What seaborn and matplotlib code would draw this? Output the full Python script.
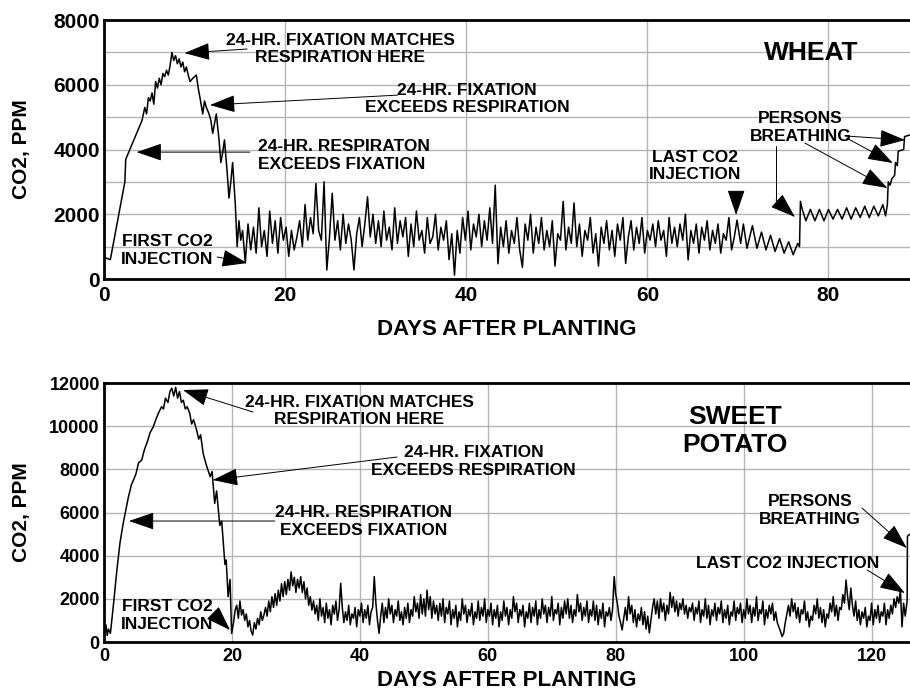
import numpy as np
import pandas as pd
import seaborn as sns
import matplotlib.pyplot as plt

# ---------------- wheat (top panel) ----------------
wheat_rise_day = [0, 0.2, 0.7, 1.5, 2.3, 2.4, 3.0, 3.6, 4.2, 4.5,
                  4.7, 4.9, 5.1, 5.3, 5.5, 5.7, 5.9, 6.1, 6.3, 6.5,
                  6.7, 6.9, 7.1, 7.3, 7.5, 7.7, 7.9, 8.1, 8.3, 8.5,
                  8.7, 8.9, 9.1, 9.3, 9.5, 9.8, 10.2, 10.4, 10.6, 10.9,
                  11.1, 11.3, 11.6, 11.8, 12.0, 12.2, 12.4, 12.7, 12.9, 13.1,
                  13.3, 13.6, 13.8, 14.0, 14.2, 14.5, 14.7, 14.9, 15.1, 15.3,
                  15.6]
wheat_rise_ppm = [700, 650, 600, 1800, 3000, 3700, 4100, 4500, 4900, 5300,
                  5100, 5600, 5500, 5750, 5400, 6100, 5900, 6200, 6000, 6350,
                  6250, 6450, 6300, 6600, 7000, 6750, 6900, 6650, 6800, 6550,
                  6700, 6400, 6550, 6300, 6100, 6200, 6300, 5900, 5600, 5100,
                  5500, 5300, 5100, 4900, 4500, 4800, 5100, 4300, 3600, 3900,
                  4300, 3300, 2500, 3000, 3600, 2300, 1000, 1800, 1200, 1500,
                  500]

# readings every 0.3 day from day 15.9
wheat_noise_start = 15.9
wheat_noise_step = 0.3
wheat_noise_ppm = [
    1700, 900, 1600, 800, 2200, 1000, 1500, 700, 2100, 1100,
    1800, 800, 1900, 1200, 1600, 700, 1500, 900, 1300, 1800,
    1000, 2300, 1200, 1900, 1400, 2950, 1500, 1200, 3000, 280,
    1300, 2650, 1200, 1800, 900, 2000, 1100, 1700, 1200, 280,
    1400, 1900, 1000, 1700, 2540, 1300, 2000, 1100, 1800, 1000,
    2100, 1200, 1600, 900, 2200, 1100, 1800, 1300, 1900, 700,
    1700, 1000, 2100, 1200, 1500, 800, 1900, 1100, 1300, 2000,
    900, 1600, 1200, 1800, 600, 1400, 120, 1500, 800, 1900,
    1200, 2100, 900, 1700, 1300, 2000, 1000, 1800, 1200, 2200,
    1100, 2900, 470, 1600, 1000, 1800, 800, 1500, 1100, 1900,
    900, 360, 1700, 1200, 2000, 800, 1600, 1100, 1900, 900,
    1500, 1000, 1800, 400, 1400, 1200, 2400, 900, 1600, 1100,
    2350, 1000, 1700, 700, 1500, 1200, 1900, 800, 1400, 400,
    1600, 1100, 1800, 900, 1500, 700, 1700, 1200, 1900, 480,
    1300, 1800, 900, 1600, 1100, 1900, 800, 1500, 1200, 1700,
    1000, 1800, 1200, 1500, 700, 1900, 1100, 1600, 1000, 1700,
    1200, 2000, 590, 1500, 1100, 1700, 800, 1600, 1200, 1800,
    900, 1500, 1100, 1700, 800, 1400, 1200, 1900, 900, 1300,
    1820,
]

wheat_tail_day = [70.3, 70.6, 71.0, 71.6, 72.1, 72.6, 73.1, 73.6, 74.1, 74.6,
                  75.1, 75.6, 76.1, 76.6, 76.8, 76.9, 77.1, 77.5, 78.0, 78.5,
                  79.0, 79.5, 80.0, 80.5, 81.0, 81.5, 82.0, 82.5, 83.0, 83.5,
                  84.0, 84.5, 85.0, 85.5, 86.0, 86.3, 86.5, 86.6, 86.8, 87.0,
                  87.3, 87.4, 87.6, 87.7, 88.3, 88.4, 89.0]
wheat_tail_ppm = [1100, 1700, 950, 1650, 950, 1450, 900, 1350, 850, 1250,
                  800, 1150, 750, 1100, 1000, 2400, 2150, 1800, 2150, 1800,
                  2150, 1800, 2150, 1850, 2150, 1850, 2200, 1850, 2200, 1900,
                  2250, 1900, 2250, 1950, 2300, 1950, 2300, 3000, 2900, 3100,
                  3200, 3600, 3500, 3950, 4000, 4400, 4450]

# ---------------- sweet potato (bottom panel) ----------------
potato_rise_day = [0, 0.3, 0.5, 0.7, 1.0, 1.5, 2.0, 2.5, 3.0, 3.3,
                   3.8, 4.3, 4.6, 5.0, 5.4, 5.9, 6.3, 6.8, 7.2, 7.7,
                   8.1, 8.5, 9.0, 9.3, 9.6, 10.0, 10.3, 10.6, 10.9, 11.2,
                   11.5, 11.8, 12.1, 12.4, 12.7, 13.0, 13.4, 13.7, 14.0, 14.5,
                   14.8, 15.1, 15.5, 15.8, 16.1, 16.6, 16.9, 17.3, 17.6, 18.1,
                   18.4, 18.9, 19.1, 19.4, 19.7, 19.95]
potato_rise_ppm = [400, 800, 300, 600, 400, 1800, 3300, 4600, 5500, 5960,
                   6700, 7300, 7500, 7800, 8300, 8430, 8900, 9300, 9700, 9970,
                   10300, 10600, 10900, 10800, 11300, 11100, 11600, 11760, 11400, 11800,
                   11300, 11600, 11100, 11200, 10800, 10900, 10600, 10100, 10300, 9800,
                   9400, 9600, 8740, 8400, 8100, 7660, 7900, 6420, 7000, 5400,
                   5600, 3600, 3800, 2100, 2900, 400]

# readings every 0.25 day from day 20.25
potato_noise_start = 20.25
potato_noise_step = 0.25
potato_noise_ppm = [
    900, 1480, 1700, 1100, 1900, 1250, 1500, 1000, 1300, 700, 1000, 500, 320, 900, 600, 1100,
    800, 1400, 1000, 1250, 1600, 1200, 1900, 1400, 2100, 1600, 2240, 1700, 2400, 1900, 2700, 2100,
    2800, 2200, 2900, 2400, 3250, 2600, 3000, 2300, 2900, 2500, 3030, 2300, 2800, 2000, 2500, 1700,
    2100, 1480, 1900, 1300, 1700, 1000, 2000, 1200, 1600, 900, 1800, 1100, 1500, 800, 1700, 1300,
    1900, 1000, 1500, 2720, 1600, 900, 1400, 1000, 1700, 800, 1300, 1100, 1600, 700, 1500, 1200,
    1800, 900, 1500, 1100, 1700, 800, 1400, 1600, 3030, 1800, 1000, 400, 1200, 1800, 900, 1600,
    1100, 2000, 1300, 1700, 900, 1500, 1200, 1900, 1000, 1400, 800, 1600, 1100, 1800, 900, 1500,
    1200, 2100, 1400, 1800, 1100, 2200, 1300, 2000, 1200, 2400, 1500, 2100, 1100, 1900, 1300, 1700,
    1000, 1800, 1200, 2000, 900, 1600, 1300, 1900, 800, 1500, 1100, 1700, 700, 1400, 1000, 2000,
    1300, 1700, 900, 1500, 1200, 1800, 800, 1400, 1100, 1900, 1000, 1600, 1200, 2000, 900, 1500,
    1200, 1800, 800, 1500, 1100, 1700, 700, 1400, 1000, 1900, 1200, 1600, 800, 1500, 1100, 2100,
    1400, 1800, 900, 1500, 1200, 1700, 700, 1400, 1100, 1800, 900, 1600, 1200, 1900, 800, 1500,
    1100, 2000, 1300, 1700, 900, 1600, 1200, 2100, 1000, 1500, 1300, 1800, 800, 1600, 1100, 1900,
    1300, 2000, 1100, 1700, 900, 1500, 1200, 2200, 1400, 1800, 1000, 1600, 1200, 1900, 900, 1500,
    1200, 1900, 1000, 1700, 800, 1500, 1100, 1800, 700, 1400, 1200, 1600, 1000, 1500, 3030, 2200,
    1800, 1200, 900, 560, 1100, 1600, 1000, 2100, 1300, 1700, 900, 1500, 700, 1300, 1000, 1600,
    800, 1400, 600, 1200, 420, 1000, 1600, 2000, 1300, 1900, 1100, 2000, 1400, 1800, 1000, 1700,
    1300, 2300, 1600, 2100, 1400, 1900, 1200, 1800, 1500, 2000, 1300, 1700, 1100, 1600, 1400, 1800,
    1000, 1600, 1300, 1900, 900, 1500, 1200, 2000, 1100, 1700, 800, 1500, 1200, 1800, 1000, 1600,
    1300, 1900, 900, 1500, 1100, 1700, 800, 1400, 1200, 1900, 1000, 1600, 1300, 1800, 900, 1500,
    1100, 2000, 1300, 1700, 900, 1600, 1200, 2100, 1000, 1500, 1300, 1900, 800, 1500, 1100, 1700,
    1300, 1800, 1000, 1400, 900, 700, 500, 250, 400, 900, 1300, 1700, 1200, 2000, 1400, 1800,
    1100, 1600, 900, 1500, 1300, 1900, 1000, 1400, 700, 1200, 1000, 1700, 1300, 2000, 1100, 1600,
    900, 1500, 700, 1300, 1100, 1800, 1400, 2100, 1200, 1700, 1000, 1600, 1500, 2200, 1800, 2870,
    2100, 1500, 2500, 1700, 1200, 1900, 1000, 1500, 800, 1400, 1100, 1600, 700, 1200, 1000, 1800,
    800, 1500, 1100, 1700, 900, 1400, 1200, 1800, 800, 1500, 1100, 1700, 1300, 2000, 1600, 2100,
    1800, 2400,
]

potato_tail_day = [124.75, 125.0, 125.25, 125.55, 125.6, 126.0]
potato_tail_ppm = [700, 1800, 1200, 1900, 4900, 5000]


def build_frame(rise_day, rise_ppm, start, step, noise_ppm, tail_day, tail_ppm):
    noise_day = start + step * np.arange(len(noise_ppm))
    day = np.concatenate([rise_day, noise_day, tail_day])
    ppm = np.concatenate([rise_ppm, noise_ppm, tail_ppm])
    return pd.DataFrame({"day": day, "ppm": ppm})


wheat = build_frame(wheat_rise_day, wheat_rise_ppm, wheat_noise_start, wheat_noise_step,
                    wheat_noise_ppm, wheat_tail_day, wheat_tail_ppm)
potato = build_frame(potato_rise_day, potato_rise_ppm, potato_noise_start, potato_noise_step,
                     potato_noise_ppm, potato_tail_day, potato_tail_ppm)

sns.set_theme(style="white")
plt.rcParams["font.family"] = ["Liberation Sans", "DejaVu Sans"]
plt.rcParams["font.weight"] = "bold"

fig = plt.figure(figsize=(9.1, 6.91), dpi=100)
ax1 = fig.add_axes([0.1143, 0.5962, 0.8857, 0.3748])
ax2 = fig.add_axes([0.1143, 0.0709, 0.8857, 0.3748])


def style_axis(ax, xmax, ymax, ystep, minor_step, tick_size, xpad):
    ax.set_xlim(0, xmax)
    ax.set_ylim(0, ymax)
    ax.set_xticks(range(0, int(xmax) + 1, 20))
    ax.set_yticks(range(0, ymax + 1, ystep))
    if minor_step:
        ax.set_yticks(range(0, ymax + 1, minor_step), minor=True)
    ax.grid(True, which="both", color="#b5b5b5", lw=1)
    ax.set_axisbelow(True)
    ax.tick_params(which="both", length=0, labelsize=tick_size, colors="black")
    ax.tick_params(axis="x", pad=xpad)
    ax.tick_params(axis="y", pad=3)
    for s in ["top", "bottom", "left"]:
        ax.spines[s].set_linewidth(2)
        ax.spines[s].set_color("black")
    ax.spines["right"].set_visible(False)
    ax.set_ylabel("CO2, PPM", fontsize=15, fontweight="bold", color="black")
    ax.yaxis.set_label_coords(-0.09, 0.5)
    ax.set_xlabel("DAYS AFTER PLANTING", fontsize=16, fontweight="bold", color="black")


def arrow(ax, tail, tip):
    ax.annotate("", xy=tip, xytext=tail,
                arrowprops=dict(arrowstyle="-|>,head_length=1.6,head_width=0.55",
                                mutation_scale=10, color="black", lw=0.7,
                                shrinkA=0, shrinkB=0))


def label(ax, x, y, s, size=12.5, ha="center"):
    ax.text(x, y, s, ha=ha, va="center", fontsize=size, fontweight="bold",
            color="black", linespacing=1.2)


sns.lineplot(data=wheat, x="day", y="ppm", color="black", lw=1.1,
             estimator=None, ax=ax1)
sns.lineplot(data=potato, x="day", y="ppm", color="black", lw=1.1,
             estimator=None, ax=ax2)

style_axis(ax1, 89, 8000, 2000, 1000, 15, 5)
ax1.xaxis.labelpad = 10
style_axis(ax2, 126, 12000, 2000, None, 13, 4)
ax2.xaxis.labelpad = 4

# top panel annotations
label(ax1, 26.1, 7105, "24-HR. FIXATION MATCHES\nRESPIRATION HERE")
arrow(ax1, (15.8, 7105), (8.9, 6980))
label(ax1, 40.1, 5560, "24-HR. FIXATION\nEXCEEDS RESPIRATION")
arrow(ax1, (32.4, 5680), (11.7, 5375))
label(ax1, 17.0, 3815, "24-HR. RESPIRATON\nEXCEEDS FIXATION", ha="left")
arrow(ax1, (16.1, 3920), (3.6, 3920))
label(ax1, 7.0, 880, "FIRST CO2\nINJECTION")
arrow(ax1, (12.5, 680), (15.8, 494))
label(ax1, 78.1, 6980, "WHEAT", size=19)
label(ax1, 65.3, 3490, "LAST CO2\nINJECTION")
arrow(ax1, (69.8, 2690), (69.8, 1977))
label(ax1, 76.9, 4680, "PERSONS\nBREATHING")
ax1.plot([74.2, 74.2], [4110, 2440], color="black", lw=0.7)
arrow(ax1, (74.2, 2440), (76.3, 1915))
arrow(ax1, (82.0, 4417), (88.45, 4294))
arrow(ax1, (82.0, 4355), (87.1, 3583))
arrow(ax1, (77.4, 4200), (86.5, 2811))

# bottom panel annotations
label(ax2, 39.9, 10700, "24-HR. FIXATION MATCHES\nRESPIRATION HERE")
arrow(ax2, (23.3, 10656), (12.35, 11675))
label(ax2, 57.8, 8363, "24-HR. FIXATION\nEXCEEDS RESPIRATION")
arrow(ax2, (45.8, 8571), (17.0, 7505))
label(ax2, 40.6, 5583, "24-HR. RESPIRATION\nEXCEEDS FIXATION")
arrow(ax2, (26.7, 5606), (3.9, 5606))
label(ax2, 9.85, 1228, "FIRST CO2\nINJECTION")
arrow(ax2, (17.35, 1251), (19.7, 556))
label(ax2, 98.6, 9776, "SWEET\nPOTATO", size=19)
label(ax2, 110.4, 6093, "PERSONS\nBREATHING")
arrow(ax2, (118.5, 6208), (125.5, 4355))
label(ax2, 106.9, 3660, "LAST CO2 INJECTION")
arrow(ax2, (119.3, 3336), (125.2, 2270))

fig.savefig("out.png", dpi=100)
